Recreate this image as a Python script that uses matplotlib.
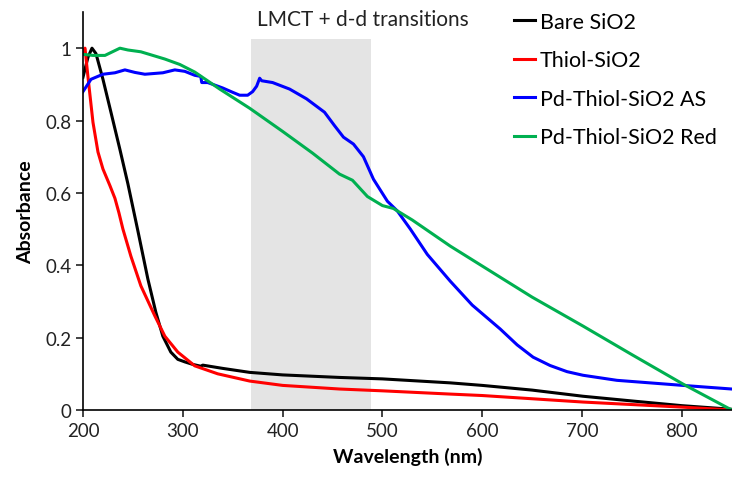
import matplotlib
matplotlib.use("Agg")
import matplotlib.pyplot as plt

plt.rcParams['font.family'] = ['Lato', 'DejaVu Sans']

# Bare SiO2
bare_x = [200, 205, 209, 213, 220, 228, 237, 245, 255, 265, 273, 280, 288, 295, 302, 310, 318,
          320, 340, 367, 400, 457, 500, 568, 600, 650, 701, 750, 800, 850]
bare_y = [0.92, 0.975, 1.0, 0.985, 0.914, 0.823, 0.72, 0.625, 0.495, 0.362, 0.27, 0.204, 0.16,
          0.14, 0.133, 0.126, 0.121, 0.124, 0.115, 0.104, 0.097, 0.09, 0.086, 0.075, 0.068, 0.055,
          0.038, 0.025, 0.012, 0.002]

# Thiol-SiO2
thiol_x = [200, 202, 205, 210, 215, 220, 227, 232, 236, 240, 248, 258, 272, 282, 295, 312, 335, 367,
           400, 457, 500, 568, 600, 701, 800, 850]
thiol_y = [0.99, 1.0, 0.92, 0.795, 0.713, 0.666, 0.62, 0.585, 0.545, 0.50, 0.425, 0.343, 0.26, 0.204,
           0.16, 0.122, 0.1, 0.08, 0.068, 0.058, 0.053, 0.044, 0.04, 0.022, 0.008, 0.0]

# Pd-Thiol-SiO2 AS
as_x = [200, 208, 220, 232, 242, 252, 262, 280, 292, 302, 312, 318, 319, 325, 340, 350, 357, 365,
        370, 374, 377, 379, 390, 407, 424, 442, 452, 461, 471, 481, 491, 505, 515, 528, 545, 568, 590,
        618, 635, 651, 668, 685, 701, 735, 768, 801, 850]
as_y = [0.88, 0.914, 0.928, 0.932, 0.94, 0.933, 0.928, 0.932, 0.94, 0.936, 0.925, 0.922, 0.905,
        0.905, 0.89, 0.878, 0.87, 0.87, 0.88, 0.895, 0.917, 0.91, 0.905, 0.887, 0.86, 0.823, 0.786,
        0.754, 0.735, 0.70, 0.638, 0.577, 0.55, 0.50, 0.43, 0.356, 0.29, 0.224, 0.18, 0.146, 0.123,
        0.106, 0.096, 0.082, 0.075, 0.068, 0.058]

# Pd-Thiol-SiO2 Red
red_x = [200, 210, 222, 237, 245, 258, 270, 282, 297, 312, 337, 367, 400, 430, 457, 470, 485, 500,
         511, 530, 568, 618, 650, 701, 750, 801, 850]
red_y = [0.983, 0.98, 0.98, 1.0, 0.995, 0.99, 0.98, 0.97, 0.955, 0.934, 0.887, 0.834, 0.77, 0.71,
         0.652, 0.635, 0.59, 0.565, 0.557, 0.525, 0.453, 0.367, 0.312, 0.232, 0.153, 0.072, 0.0]

band = [368, 489]
x_ticks = [200, 300, 400, 500, 600, 700, 800]
y_ticks = [0, 0.2, 0.4, 0.6, 0.8, 1.0]
y_tick_labels = ["0", "0.2", "0.4", "0.6", "0.8", "1"]

fig = plt.figure(figsize=(7.32, 4.81), dpi=100)
ax = fig.add_axes([83 / 732, 70 / 481, 648.7 / 732, 398 / 481])

ax.fill_between(band, 0, 1.026, color='#e4e4e4', lw=0, zorder=0)
ax.text(480, 1.08, "LMCT + d-d transitions", ha='center', va='center', fontsize=15, color='#222222')

lw = 2.2
ax.plot(bare_x, bare_y, color='black', lw=lw, label='Bare SiO2')
ax.plot(thiol_x, thiol_y, color='#ff0000', lw=lw, label='Thiol-SiO2')
ax.plot(as_x, as_y, color='#0000ff', lw=lw, label='Pd-Thiol-SiO2 AS')
ax.plot(red_x, red_y, color='#00b050', lw=lw, label='Pd-Thiol-SiO2 Red')

ax.set_xlim(200, 850)
ax.set_ylim(0, 1.1)
ax.set_xticks(x_ticks)
ax.set_yticks(y_ticks)
ax.set_yticklabels(y_tick_labels)
for s in ['top', 'right']:
    ax.spines[s].set_visible(False)
for s in ['left', 'bottom']:
    ax.spines[s].set_linewidth(1.2)
    ax.spines[s].set_color('black')
ax.tick_params(direction='out', length=5, width=1.2, labelsize=13.5, colors='#222222')
ax.set_xlabel('Wavelength (nm)', fontsize=14, fontweight='bold', labelpad=6)
ax.set_ylabel('Absorbance', fontsize=14, fontweight='bold', labelpad=8)

leg = fig.legend(loc='upper left', bbox_to_anchor=(503 / 732, 1 - 2 / 481), frameon=False,
                 fontsize=15.5, handlelength=1.0, handletextpad=0.2, labelspacing=0.86, borderpad=0)

fig.savefig('out.png', dpi=100)
